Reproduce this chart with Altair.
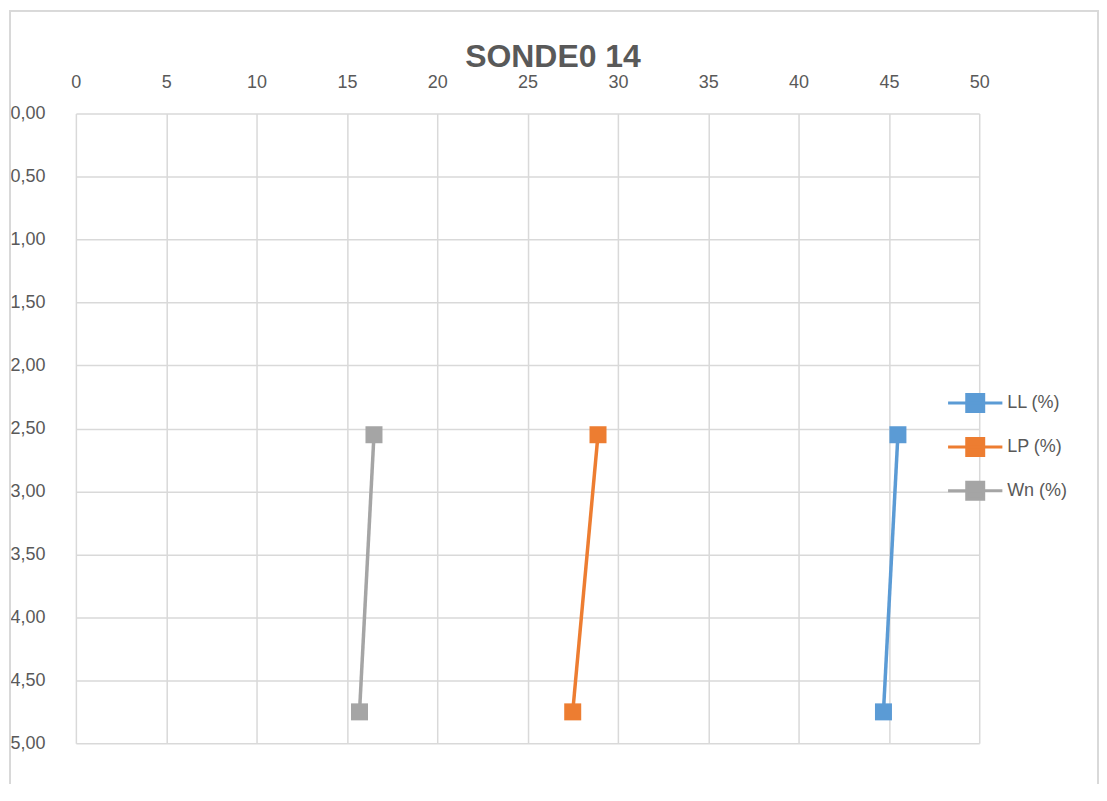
import altair as alt
import pandas as pd

title_text = "SONDE0 14"
series = ["LL (%)", "LP (%)", "Wn (%)"]
depths = [2.55, 4.75]
ll_values = [45.5, 44.7]
lp_values = [28.9, 27.5]
wn_values = [16.5, 15.7]
colors = ["#5B9BD5", "#ED7D31", "#A5A5A5"]

rows = []
for name, vals in zip(series, [ll_values, lp_values, wn_values]):
    for d, v in zip(depths, vals):
        rows.append({"serie": name, "prof": d, "valor": v})
df = pd.DataFrame(rows)

font = "Liberation Sans"
gray_txt = "#595959"

x_enc = alt.X("valor:Q", scale=alt.Scale(domain=[0, 50], nice=False),
              axis=alt.Axis(orient="top", values=list(range(0, 51, 5)), title=None,
                            grid=True, gridColor="#D9D9D9", gridWidth=1.5,
                            domain=False, ticks=False, labelFontSize=18,
                            labelColor=gray_txt, labelFont=font, labelPadding=22,
                            labelFlush=False))
y_enc = alt.Y("prof:Q", scale=alt.Scale(domain=[0, 5], reverse=True, nice=False),
              axis=alt.Axis(values=[i * 0.5 for i in range(11)], title=None,
                            grid=True, gridColor="#D9D9D9", gridWidth=1.5,
                            domain=False, ticks=False, labelFontSize=18,
                            labelColor=gray_txt, labelFont=font, labelAlign="left",
                            labelPadding=66, labelExpr="replace(format(datum.value, '.2f'), '.', ',')",
                            labelFlush=False))

legend_path = "M-3.2,0H3.2M-1,-1H1V1H-1Z"
color_enc = alt.Color("serie:N", scale=alt.Scale(domain=series, range=colors),
                      legend=alt.Legend(title=None, orient="none", legendX=891, legendY=280,
                                        symbolType=legend_path, symbolSize=289,
                                        symbolStrokeWidth=3, labelFontSize=18,
                                        labelColor=gray_txt, labelFont=font,
                                        rowPadding=14, labelOffset=22))

base = alt.Chart(df).encode(x=x_enc, y=y_enc, color=color_enc, order="prof:Q")
lines = base.mark_line(strokeWidth=3.5)
points = base.mark_point(shape="square", filled=True, size=290, opacity=1)

border = alt.Chart(df).mark_rect(fill=None, stroke="#D9D9D9", strokeWidth=1.5).encode(
    x=alt.value(-66), x2=alt.value(1024), y=alt.value(-103), y2=alt.value(700))

title = alt.Chart(pd.DataFrame({"t": [title_text]})).mark_text(
    fontSize=32, fontWeight="bold", color=gray_txt, font=font,
    align="center", baseline="alphabetic").encode(
    text="t:N", x=alt.value(478), y=alt.value(-47))

chart = alt.layer(border, lines, points, title).properties(
    width=905, height=631,
    autosize=alt.AutoSizeParams(type="none"),
    padding={"left": 68, "top": 105, "right": 120, "bottom": 40},
).configure_view(stroke=None)

chart.save("out.html", embed_options={"renderer": "svg", "actions": False})
